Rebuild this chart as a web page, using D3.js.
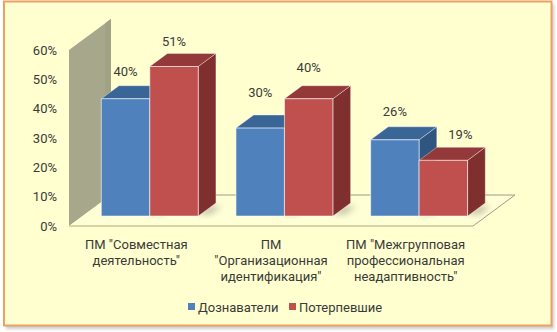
<!DOCTYPE html>
<html>
<head>
<meta charset="utf-8">
<script src="https://cdn.jsdelivr.net/npm/d3@7"></script>
<style>
  html, body { margin: 0; padding: 0; background: #ffffff; }
  svg { display: block; }
  text { font-family: Roboto, "Open Sans", sans-serif; fill: #3a3a3a; }
</style>
</head>
<body>
<svg id="chart" width="557" height="332"></svg>
<script>
// Chart data
const categories = [
  ['ПМ "Совместная', 'деятельность"'],
  ['ПМ', '"Организационная', 'идентификация"'],
  ['ПМ "Межгрупповая', 'профессиональная', 'неадаптивность"']
];
const seriesNames = ["Дознаватели", "Потерпевшие"];
const doznavateli = [0.40, 0.30, 0.26];
const poterpevshie = [0.51, 0.40, 0.19];
const yTicks = [0, 0.1, 0.2, 0.3, 0.4, 0.5, 0.6];

// Small offsets for the value labels (dx, dy), per series and category
const labelNudge = [
  [[0, 1], [0, -8], [0, 0]],
  [[0, 3], [0, -3], [17, 2]]
];

const FS = 13;
const svg = d3.select("#chart");
const defs = svg.append("defs");

// Soft shadows
const blur = defs.append("filter").attr("id", "soft").attr("x", "-50%").attr("y", "-50%").attr("width", "200%").attr("height", "200%");
blur.append("feGaussianBlur").attr("stdDeviation", 3);
const frameShadow = defs.append("filter").attr("id", "frameShadow").attr("x", "-5%").attr("y", "-5%").attr("width", "110%").attr("height", "115%");
frameShadow.append("feGaussianBlur").attr("stdDeviation", 1.5);

// Outer frame
svg.append("rect").attr("x", 6).attr("y", 4).attr("width", 548).attr("height", 325)
  .attr("fill", "#9a9a9a").attr("opacity", 0.5).attr("filter", "url(#frameShadow)");
svg.append("rect").attr("x", 4).attr("y", 1.5).attr("width", 547.5).attr("height", 324)
  .attr("fill", "#FFFFCF").attr("stroke", "#EE9F63").attr("stroke-width", 2);

// 3D geometry: front plane scales plus a depth vector
const DX = 42, DY = -31;
const fFront = 0.32, fBack = 0.74;
const P = (x, y, f) => [x + f * DX, y + f * DY];

const x0 = d3.scaleBand().domain(d3.range(categories.length)).range([69, 473]).padding(0);
const x1 = d3.scaleBand().domain(d3.range(seriesNames.length))
  .range([x0.bandwidth() * 0.14, x0.bandwidth() * 0.86]).padding(0);
const y = d3.scaleLinear().domain([0, 0.6]).range([226, 50]);

const line = d3.line();
const poly = pts => line(pts) + "Z";

// Side wall
const xL = x0.range()[0], xR = x0.range()[1];
svg.append("path")
  .attr("d", poly([P(xL, y(0.6), 0), P(xL, y(0.6), 1), P(xL, y(0), 1), P(xL, y(0), 0)]))
  .attr("fill", "#A7A78B");
svg.append("path")
  .attr("d", poly([P(xL, y(0.6), 0.86), P(xL, y(0.6), 1), P(xL, y(0), 1), P(xL, y(0), 0.86)]))
  .attr("fill", "#A1A185");

// Floor
svg.append("path")
  .attr("d", poly([P(xL, y(0), 0), P(xR, y(0), 0), P(xR, y(0), 1), P(xL, y(0), 1)]))
  .attr("fill", "#FFFFD6");
svg.append("path")
  .attr("d", line([P(xL, y(0), 1), P(xR, y(0), 1), P(xR, y(0), 0)]))
  .attr("fill", "none").attr("stroke", "#9d9d88").attr("stroke-width", 1);
svg.append("path")
  .attr("d", line([P(xL, y(0), 0), P(xR, y(0), 0)]))
  .attr("fill", "none").attr("stroke", "#D6D3A6").attr("stroke-width", 2);

// Y tick labels
svg.append("g").selectAll("text").data(yTicks).join("text")
  .attr("x", 57).attr("y", d => y(d)).attr("dy", "0.35em")
  .attr("text-anchor", "end").attr("font-size", FS)
  .text(d3.format(".0%"));

const colors = [
  { front: "#4F81BD", top: "#3A6597", side: "#2F5581" },
  { front: "#C0504D", top: "#94393A", side: "#7E2F2E" }
];
const values = [doznavateli, poterpevshie];

// Bars, drawn left to right so each one covers the side of the one before
const bars = [];
categories.forEach((c, ci) => {
  seriesNames.forEach((s, si) => {
    bars.push({ ci, si, v: values[si][ci] });
  });
});

const gShadow = svg.append("g").attr("filter", "url(#soft)").attr("opacity", 0.35);
const gBars = svg.append("g");

bars.forEach(b => {
  const a = x0(b.ci) + x1(b.si);
  const e = a + x1.bandwidth();
  const yt = y(b.v), yb = y(0);
  const col = colors[b.si];

  // shadow on the floor
  gShadow.append("path")
    .attr("d", poly([P(e - 4, yb, fFront + 0.05), P(e + 10, yb, fFront + 0.05), P(e + 10, yb, fBack - 0.1), P(e - 4, yb, fBack - 0.1)]))
    .attr("fill", "#555");

  const g = gBars.append("g");
  g.append("path")
    .attr("d", poly([P(e, yt, fFront), P(e, yt, fBack), P(e, yb, fBack), P(e, yb, fFront)]))
    .attr("fill", col.side).attr("stroke", "rgba(255,255,255,0.35)").attr("stroke-width", 0.8);
  g.append("path")
    .attr("d", poly([P(a, yt, fFront), P(e, yt, fFront), P(e, yt, fBack), P(a, yt, fBack)]))
    .attr("fill", col.top).attr("stroke", "rgba(255,255,255,0.45)").attr("stroke-width", 0.8);
  g.append("path")
    .attr("d", poly([P(a, yt, fFront), P(e, yt, fFront), P(e, yb, fFront), P(a, yb, fFront)]))
    .attr("fill", col.front).attr("stroke", "rgba(255,255,255,0.6)").attr("stroke-width", 1);

  // value label
  const [cx, cy] = P((a + e) / 2, yt, fFront);
  const n = labelNudge[b.si][b.ci];
  svg.append("text")
    .attr("x", cx + n[0]).attr("y", cy - 28 + n[1]).attr("dy", "0.35em")
    .attr("text-anchor", "middle").attr("font-size", FS)
    .text(d3.format(".0%")(b.v));
});

// Category labels
categories.forEach((lines, ci) => {
  const t = svg.append("text")
    .attr("x", x0(ci) + x0.bandwidth() / 2).attr("y", 244)
    .attr("text-anchor", "middle").attr("font-size", FS);
  lines.forEach((l, li) => {
    t.append("tspan").attr("x", x0(ci) + x0.bandwidth() / 2)
      .attr("dy", li === 0 ? "0.35em" : 16).text(l);
  });
});

// Legend
const legend = svg.append("g");
const legendX = [188, 289];
seriesNames.forEach((s, i) => {
  legend.append("rect").attr("x", legendX[i]).attr("y", 303).attr("width", 7).attr("height", 7)
    .attr("fill", colors[i].front);
  legend.append("text").attr("x", legendX[i] + 10).attr("y", 307).attr("dy", "0.35em")
    .attr("font-size", FS).text(s);
});
</script>
</body>
</html>
